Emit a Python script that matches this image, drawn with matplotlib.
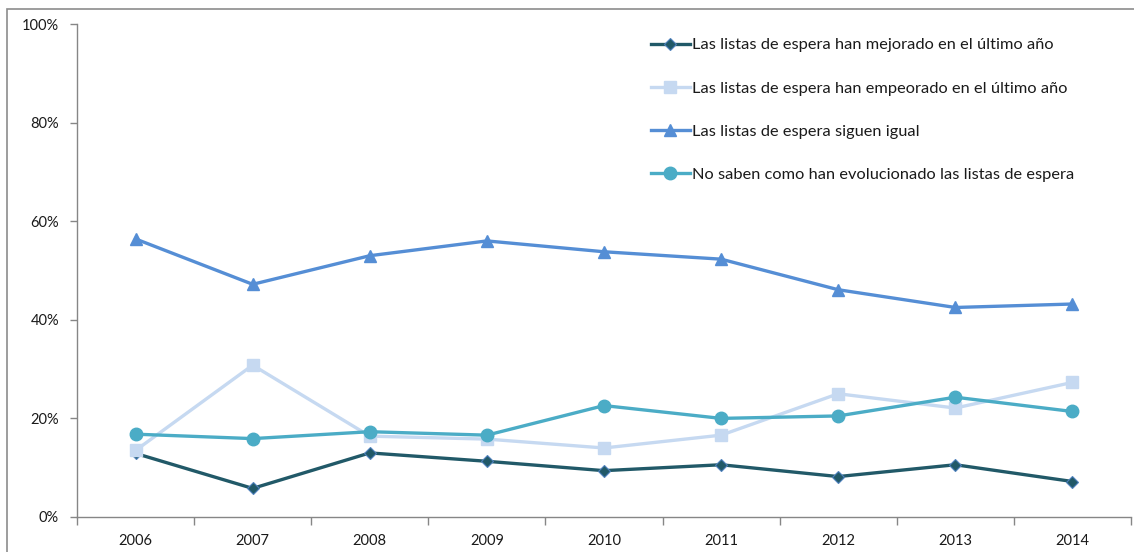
import matplotlib.pyplot as plt
from matplotlib.patches import Rectangle
from matplotlib.ticker import FixedLocator, PercentFormatter

plt.rcParams['font.family'] = ['Lato', 'DejaVu Sans']

years = ['2006', '2007', '2008', '2009', '2010', '2011', '2012', '2013', '2014']

# Percent of respondents per answer
mejorado = [12.9, 5.8, 13.0, 11.3, 9.4, 10.6, 8.2, 10.6, 7.2]
empeorado = [13.5, 30.8, 16.4, 15.8, 14.0, 16.6, 25.0, 22.1, 27.3]
igual = [56.4, 47.2, 53.0, 56.0, 53.8, 52.3, 46.1, 42.5, 43.2]
no_sabe = [16.8, 15.9, 17.3, 16.6, 22.6, 20.0, 20.5, 24.3, 21.4]

labels = [
    'Las listas de espera han mejorado en el último año',
    'Las listas de espera han empeorado en el último año',
    'Las listas de espera siguen igual',
    'No saben como han evolucionado las listas de espera',
]

fig = plt.figure(figsize=(11.34, 5.52), dpi=100)
W, H = 1134, 552
ax = fig.add_axes([77 / W, (H - 517) / H, (1131 - 77) / W, (517 - 24) / H])

# outer chart frame
fig.patches.append(Rectangle((7 / W, -0.1), 1.2, (H - 9) / H + 0.1,
                             transform=fig.transFigure, fill=False,
                             edgecolor='#8c8c8c', linewidth=1.2))

x = list(range(len(years)))
lw = 2.4
ax.plot(x, mejorado, color='#215968', lw=lw, marker='D', markersize=6.5,
        markerfacecolor='#215968', markeredgecolor='#4F81BD', markeredgewidth=0.8,
        label=labels[0])
ax.plot(x, empeorado, color='#C6D9F1', lw=lw, marker='s', markersize=8,
        label=labels[1])
ax.plot(x, igual, color='#558ED5', lw=lw, marker='^', markersize=9,
        label=labels[2])
ax.plot(x, no_sabe, color='#4BACC6', lw=lw, marker='o', markersize=9,
        label=labels[3])

ax.set_xlim(-0.5, len(years) - 0.5)
ax.set_ylim(0, 100)
ax.set_yticks(range(0, 101, 20))
ax.yaxis.set_major_formatter(PercentFormatter(decimals=0))

# category axis: ticks between years, labels centred
ax.xaxis.set_major_locator(FixedLocator([i - 0.5 for i in range(len(years) + 1)]))
ax.xaxis.set_minor_locator(FixedLocator(x))
ax.set_xticklabels([], minor=False)
ax.set_xticklabels(years, minor=True)
ax.tick_params(axis='x', which='major', length=6, color='#868686', width=1)
ax.tick_params(axis='x', which='minor', length=0, pad=12, labelsize=10.5, labelcolor='#1a1a1a')
ax.tick_params(axis='y', length=5, color='#868686', width=1, pad=8,
               labelsize=10.5, labelcolor='#1a1a1a')

for side in ['top', 'right']:
    ax.spines[side].set_visible(False)
for side in ['left', 'bottom']:
    ax.spines[side].set_color('#868686')
    ax.spines[side].set_linewidth(1)

leg = ax.legend(loc='upper left', bbox_to_anchor=((644 - 77) / (1131 - 77), 0.985),
                frameon=False, fontsize=11.8, handlelength=2.4, handletextpad=0.1,
                labelspacing=1.75, borderaxespad=0)
for t in leg.get_texts():
    t.set_color('#1a1a1a')

fig.savefig('out.png', dpi=100)
